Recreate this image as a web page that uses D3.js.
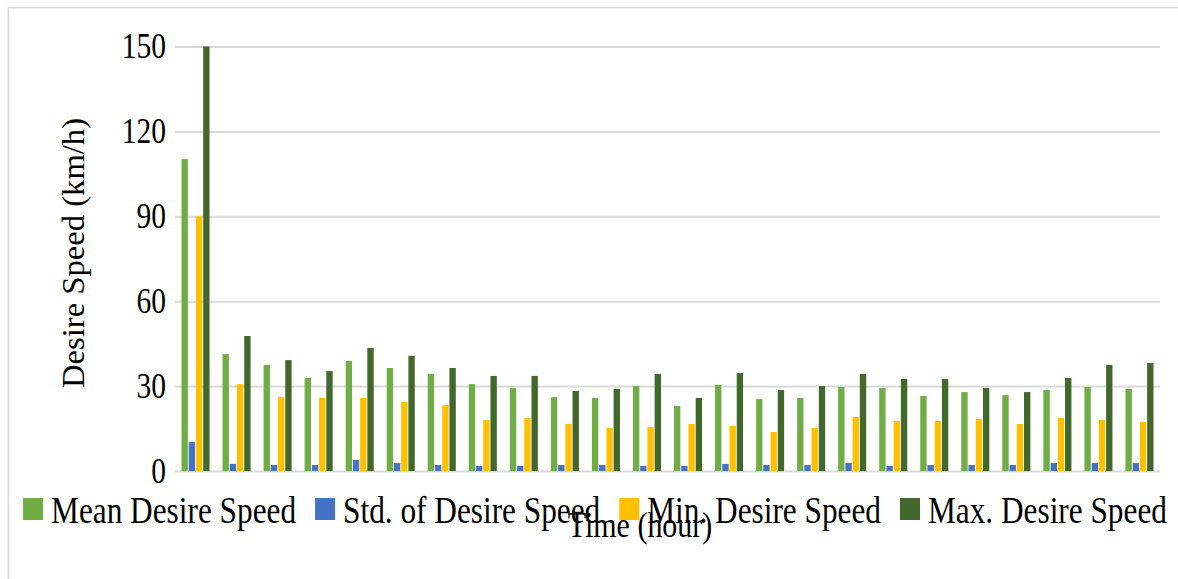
<!DOCTYPE html>
<html>
<head>
<meta charset="utf-8">
<script src="https://cdn.jsdelivr.net/npm/d3@7"></script>
<style>
  html, body { margin: 0; padding: 0; background: #fff; }
  svg { display: block; font-family: "Liberation Serif", "Times New Roman", serif; }
</style>
</head>
<body>
<svg id="chart" width="1178" height="579"></svg>
<script>
// Hours 1..24 (no labels shown on the x axis)
const hours = d3.range(1, 25);
const seriesNames = ['Mean Desire Speed', 'Std. of Desire Speed', 'Min. Desire Speed', 'Max. Desire Speed'];
const seriesColors = ['#70AD47', '#4472C4', '#FFC000', '#43682B'];

const meanSpeed = [110.2, 41.3, 37.5, 32.9, 38.9, 36.4, 34.3, 30.7, 29.3, 26.1, 25.8, 30.0,
                   23.0, 30.4, 25.4, 25.8, 29.7, 29.3, 26.5, 27.9, 26.8, 28.6, 29.7, 29.0];
const stdSpeed  = [10.2, 2.5, 2.1, 2.1, 3.9, 2.8, 2.1, 1.8, 1.8, 2.1, 2.1, 1.8,
                   1.8, 2.5, 2.1, 2.1, 2.8, 1.8, 2.1, 2.1, 2.1, 2.8, 2.8, 2.8];
const minSpeed  = [90.0, 30.7, 26.1, 25.8, 25.8, 24.4, 23.3, 18.0, 18.7, 16.6, 15.2, 15.5,
                   16.6, 15.9, 13.8, 15.2, 19.1, 17.7, 17.7, 18.4, 16.6, 18.7, 18.0, 17.3];
const maxSpeed  = [150.0, 47.7, 39.2, 35.3, 43.5, 40.7, 36.4, 33.6, 33.6, 28.3, 29.0, 34.3,
                   25.8, 34.6, 28.6, 30.0, 34.3, 32.5, 32.5, 29.3, 27.9, 32.9, 37.5, 38.2];
const yTicks = [0, 30, 60, 90, 120, 150];

const seriesValues = [meanSpeed, stdSpeed, minSpeed, maxSpeed];
const STRETCH = 1.18; // text in the reference is slightly taller than wide

const svg = d3.select('#chart');

// outer chart border (top and left visible)
svg.append('path')
    .attr('d', 'M8.5,579 V7.5 H1178')
    .attr('fill', 'none')
    .attr('stroke', '#d9d9d9')
    .attr('stroke-width', 1.5);

const plot = {left: 175, right: 1160, top: 46.5, bottom: 471};

const x = d3.scaleBand()
    .domain(hours)
    .range([plot.left, plot.right])
    .paddingInner(0.317)
    .paddingOuter(0.1585);

const xInner = d3.scaleBand()
    .domain(d3.range(seriesNames.length))
    .range([0, x.bandwidth()])
    .paddingInner(0.12);

const y = d3.scaleLinear()
    .domain([0, 150])
    .range([plot.bottom, plot.top]);

// gridlines
const grid = svg.append('g')
    .attr('transform', `translate(${plot.left},0)`)
    .call(d3.axisLeft(y).tickValues(yTicks).tickSize(-(plot.right - plot.left)).tickFormat(''));
grid.select('.domain').remove();
grid.selectAll('line').attr('stroke', '#d9d9d9').attr('stroke-width', 2);

// y axis labels
const yAxisG = svg.append('g')
    .attr('transform', `translate(${plot.left},0)`)
    .call(d3.axisLeft(y).tickValues(yTicks).tickSize(0).tickPadding(9));
yAxisG.select('.domain').remove();
yAxisG.selectAll('text')
    .attr('font-size', 29.5)
    .attr('font-family', '"Liberation Serif", serif')
    .attr('fill', '#000')
    .attr('transform', `scale(1,${STRETCH})`);

// bars
const groups = svg.append('g').selectAll('g')
    .data(hours)
    .join('g')
    .attr('transform', h => `translate(${x(h)},0)`);

groups.selectAll('rect')
    .data((h, i) => seriesValues.map((vals, s) => ({s, v: vals[i]})))
    .join('rect')
    .attr('x', d => xInner(d.s))
    .attr('width', xInner.bandwidth())
    .attr('y', d => y(d.v))
    .attr('height', d => y(0) - y(d.v))
    .attr('fill', d => seriesColors[d.s]);

// y axis title
svg.append('text')
    .attr('transform', `translate(84,253) rotate(-90) scale(1.07,1)`)
    .attr('text-anchor', 'middle')
    .attr('font-size', 30.5)
    .text('Desire Speed (km/h)');

// legend
const legend = svg.append('g');
let lx = 0;
seriesNames.forEach((name, i) => {
    const item = legend.append('g').attr('transform', `translate(${lx},0)`);
    item.append('rect')
        .attr('x', 0).attr('y', 498)
        .attr('width', 20).attr('height', 22)
        .attr('fill', seriesColors[i]);
    const t = item.append('text')
        .attr('transform', `translate(28,523) scale(1,${STRETCH})`)
        .attr('font-size', 31.3)
        .text(name);
    lx += 28 + t.node().getComputedTextLength() + 19;
});
const legendWidth = lx - 19;
legend.attr('transform', `translate(${595 - legendWidth / 2},0)`);

// x axis title
svg.append('text')
    .attr('transform', `translate(640,537) scale(1,${STRETCH})`)
    .attr('text-anchor', 'middle')
    .attr('font-size', 30)
    .text('Time (hour)');
</script>
</body>
</html>
